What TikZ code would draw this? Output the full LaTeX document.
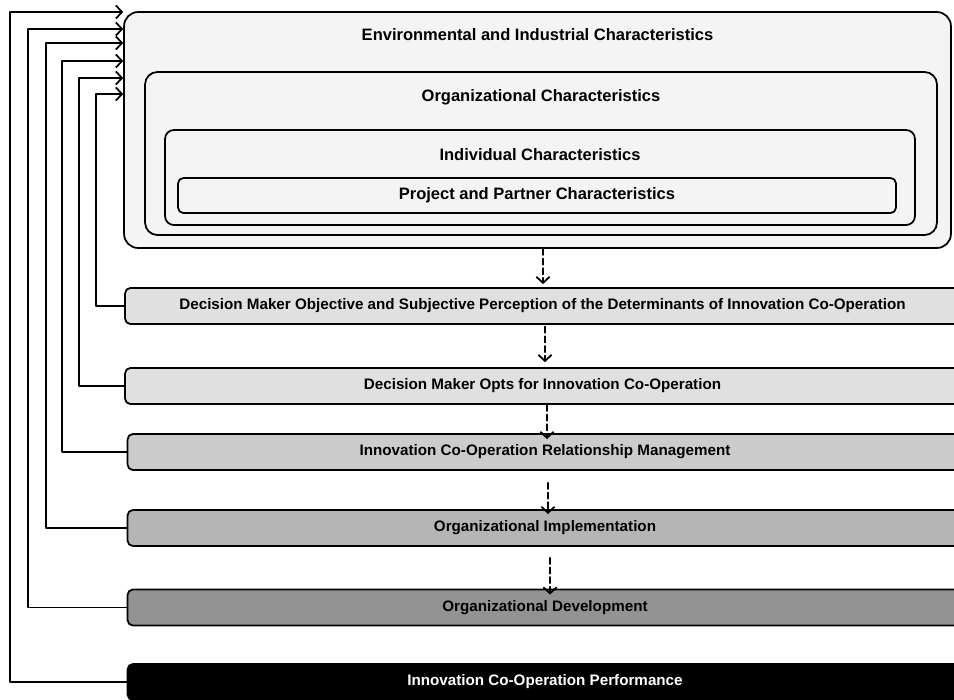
\documentclass[tikz,border=0pt]{standalone}
\usepackage{fontspec}
\setmainfont{Liberation Sans}
\usetikzlibrary{arrows.meta}
\definecolor{shellgray}{HTML}{F4F4F4}
\definecolor{stageA}{HTML}{E0E0E0}
\definecolor{stageB}{HTML}{CCCCCC}
\definecolor{stageC}{HTML}{B5B5B5}
\definecolor{stageD}{HTML}{939393}
\tikzset{
	layer/.style={draw, line width=1pt, fill=shellgray, rounded corners=#1},
	title/.style={anchor=center, font=\fontsize{9.4}{11}\selectfont\bfseries},
	stage/.style={draw, line width=1pt, rounded corners=3pt, minimum width=16.7cm, minimum height=0.72cm, inner sep=0pt, font=\fontsize{8.65}{10}\selectfont\bfseries},
	flow/.style={->, line width=1pt, dash pattern=on 3.5pt off 2pt},
	fb/.style={->, line width=1pt}
}

\begin{document}
\begin{tikzpicture}[x=0.02cm, y=-0.02cm, line cap=round, line join=round, >={Straight Barb[length=3.5pt,width=7.5pt]}]
			\useasboundingbox (0,0) rectangle (954,700);
			
			\node[layer=8pt, minimum width=16.54cm, minimum height=4.72cm, label={[title, yshift=-0.46cm]north:Environmental and Industrial Characteristics}] (env) at (537.5,130) {};
			\node[layer=7pt, minimum width=15.84cm, minimum height=3.26cm, label={[title, yshift=-0.52cm]north:Organizational Characteristics}] (org) at (541,153.5) {};
			\node[layer=5pt, minimum width=15cm, minimum height=1.9cm, label={[title, yshift=-0.5cm]north:Individual Characteristics}] (ind) at (540,177.5) {};
			\node[layer=3pt, minimum width=14.36cm, minimum height=0.7cm, title] (proj) at (537,195.5) {Project and Partner Characteristics};
			
			\node[stage, fill=stageA] (dmo) at (542.5,306) {Decision Maker Objective and Subjective Perception of the Determinants of Innovation Co-Operation};
			\node[stage, fill=stageA] (opts) at (542.5,386) {Decision Maker Opts for Innovation Co-Operation};
			\node[stage, fill=stageB] (rel) at (545,452) {Innovation Co-Operation Relationship Management};
			\node[stage, fill=stageC] (impl) at (545,528) {Organizational Implementation};
			\node[stage, fill=stageD] (dev) at (545,607.5) {Organizational Development};
			\node[stage, fill=black, text=white] (perf) at (545,682) {Innovation Co-Operation Performance};
			
			\foreach \a/\b/\x/\s/\e in {env/dmo/543/0/1.7, dmo/opts/545/1/2.8, opts/rel/547/0/-3.4, rel/impl/548/6.8/-2.8, impl/dev/550/6.2/-3.4}
				\draw[flow, shorten <=\s pt, shorten >=\e pt] (\a.south -| \x,0) -- (\b.north -| \x,0);
			
			\foreach \n/\x/\y in {dmo/96/94, opts/79/78, rel/62/61, impl/46/43, dev/28/29, perf/10/12}
				\draw[fb] (\n.west) -| (\x,\y) -- (env.west |- 0,\y);
		\end{tikzpicture}
\end{document}
